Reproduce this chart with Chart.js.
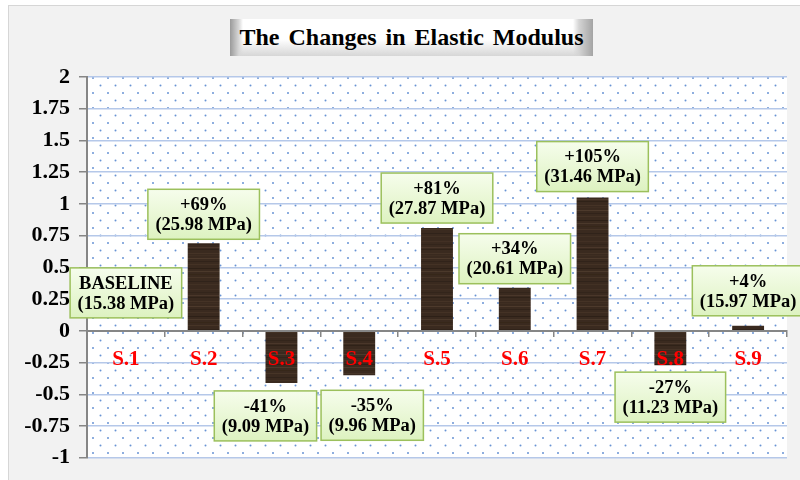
<!DOCTYPE html>
<html>
<head>
<meta charset="utf-8">
<script src="https://cdn.jsdelivr.net/npm/chart.js@4.4.0/dist/chart.umd.min.js"></script>
<style>
  html, body { margin: 0; padding: 0; width: 800px; height: 480px; overflow: hidden; background: #fff; }
  #frame { position: absolute; left: 8px; top: 5px; width: 820px; height: 500px; background: #f2f2f2; border: 1px solid #d6d6d6; }
  #title {
    position: absolute; left: 230px; top: 19px; width: 363px; height: 37px;
    background:
      linear-gradient(to right, #9a9a9a 0px, #d8d8d8 9px, rgba(255,255,255,0) 13px, rgba(255,255,255,0) calc(100% - 20px), #d4d4d4 calc(100% - 14px), #a4a4a4 100%),
      linear-gradient(to bottom, #ffffff 0%, #ffffff 55%, #d6d6d6 100%);
    font: bold 24px "Liberation Serif", "Times New Roman", serif;
    word-spacing: 3px;
    text-align: center; line-height: 37px; color: #000;
  }
  #chartBox { position: absolute; left: 0; top: 0; width: 800px; height: 480px; }
</style>
</head>
<body>
<div id="frame"></div>
<div id="chartBox"><canvas id="chart" width="800" height="480"></canvas></div>
<div id="title">The Changes in Elastic Modulus</div>
<script>
// Data
const categories = ['S.1', 'S.2', 'S.3', 'S.4', 'S.5', 'S.6', 'S.7', 'S.8', 'S.9']
const changeValues = [0, 0.69, -0.41, -0.35, 0.81, 0.34, 1.05, -0.27, 0.04]
const changeLabels = ['BASELINE', '+69%', '-41%', '-35%', '+81%', '+34%', '+105%', '-27%', '+4%']
const modulusValues = ['15.38', '25.98', '9.09', '9.96', '27.87', '20.61', '31.46', '11.23', '15.97']
const yMin = -1
const yMax = 2
const yStep = 0.25

// Label box nudges [dx, dy] in px (Excel moved some boxes by hand)
const labelNudge = [[0, -8], [0, 1], [-16, 2], [13, 9], [0, 0], [0, 1], [0, -1], [0, 1], [0, -5]]

const serif = '"Liberation Serif", "Times New Roman", serif'

// Patterns
function makeDots() {
  const c = document.createElement('canvas')
  c.width = 15
  c.height = 15
  const g = c.getContext('2d')
  g.fillStyle = '#ffffff'
  g.fillRect(0, 0, 15, 15)
  g.fillStyle = '#6893d4'
  g.beginPath(); g.arc(3, 3, 1, 0, Math.PI * 2); g.fill()
  g.beginPath(); g.arc(10.5, 10.5, 1, 0, Math.PI * 2); g.fill()
  return c
}

function makeWood() {
  const c = document.createElement('canvas')
  c.width = 40
  c.height = 48
  const g = c.getContext('2d')
  g.fillStyle = '#3a2a1f'
  g.fillRect(0, 0, 40, 48)
  const streaks = [[1, '#423024'], [4, '#33251b'], [7, '#4a372a'], [9, '#2f2218'], [13, '#453326'],
    [15, '#3f2e22'], [18, '#4d3a2c'], [21, '#31231a'], [24, '#443225'], [28, '#2d2017'],
    [31, '#4b392b'], [34, '#362719'], [37, '#473527'], [41, '#30231a'], [44, '#423124']]
  streaks.forEach(([y, col]) => {
    g.fillStyle = col
    g.fillRect(0, y, 40, 1)
  })
  return c
}

const ctx0 = document.getElementById('chart').getContext('2d')
const dotPattern = ctx0.createPattern(makeDots(), 'repeat')
const woodPattern = ctx0.createPattern(makeWood(), 'repeat')

const plotBg = {
  id: 'plotBg',
  beforeDraw(chart) {
    const { ctx, chartArea: a } = chart
    ctx.save()
    ctx.fillStyle = dotPattern
    ctx.fillRect(a.left, a.top, a.right - a.left, a.bottom - a.top)
    ctx.restore()
  }
}

const boxLabels = {
  id: 'boxLabels',
  afterDatasetsDraw(chart) {
    const { ctx } = chart
    const meta = chart.getDatasetMeta(0)
    ctx.save()
    ctx.font = 'bold 18.5px ' + serif
    meta.data.forEach((bar, i) => {
      const l1 = changeLabels[i]
      const l2 = '(' + modulusValues[i] + ' MPa)'
      const w = Math.max(ctx.measureText(l1).width, ctx.measureText(l2).width) + 15
      const h = 50
      const cx = bar.x + labelNudge[i][0]
      let top
      if (changeValues[i] >= 0) top = bar.y - 5 - h
      else top = bar.y + 6
      top += labelNudge[i][1]
      const left = cx - w / 2
      const grad = ctx.createLinearGradient(0, top, 0, top + h)
      grad.addColorStop(0, '#f6fdec')
      grad.addColorStop(1, '#ddf2c0')
      ctx.fillStyle = grad
      ctx.fillRect(left, top, w, h)
      ctx.strokeStyle = '#9cc05c'
      ctx.lineWidth = 1.5
      ctx.strokeRect(left, top, w, h)
      ctx.fillStyle = '#000'
      ctx.textAlign = 'center'
      ctx.textBaseline = 'middle'
      ctx.fillText(l1, cx, top + 16)
      ctx.fillText(l2, cx, top + 36)
    })
    ctx.restore()
  }
}

new Chart(ctx0, {
  type: 'bar',
  data: {
    labels: categories,
    datasets: [{
      data: changeValues,
      backgroundColor: woodPattern,
      borderWidth: 0,
      barPercentage: 0.41,
      categoryPercentage: 1
    }]
  },
  options: {
    responsive: false,
    animation: false,
    layout: { padding: { left: 0, top: 77, right: 13, bottom: 21 } },
    plugins: {
      legend: { display: false },
      tooltip: { enabled: false }
    },
    scales: {
      x: {
        position: { y: 0 },
        grid: { drawOnChartArea: false, offset: true, tickLength: 5, tickColor: '#868686', lineWidth: 1.5, z: 1 },
        border: { color: '#868686', width: 2, z: 1 },
        ticks: {
          z: 1,
          color: '#ff0000',
          font: { family: serif, size: 21, weight: 'bold' },
          padding: 11
        }
      },
      y: {
        min: yMin,
        max: yMax,
        afterFit: s => { s.width = 87 },
        grid: { color: '#b5c8e9', lineWidth: 1.5, tickColor: '#868686', tickLength: 8 },
        border: { color: '#868686', width: 2 },
        ticks: {
          stepSize: yStep,
          color: '#000',
          padding: 9,
          font: { family: serif, size: 22, weight: 'bold' },
          callback: v => String(Math.round(v * 100) / 100)
        }
      }
    }
  },
  plugins: [plotBg, boxLabels]
})
</script>
</body>
</html>
